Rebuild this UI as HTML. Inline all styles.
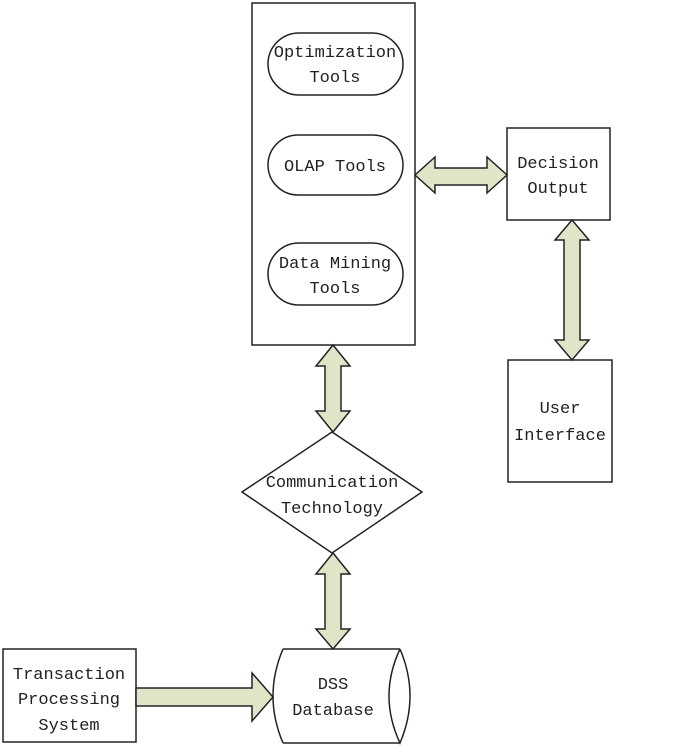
<!DOCTYPE html>
<html><head><style>
body{margin:0;background:#fff;}
text{font-family:"Liberation Mono","DejaVu Sans Mono",monospace;font-size:17px;fill:#222;text-anchor:middle;}
</style></head><body>
<svg width="685" height="747" xmlns="http://www.w3.org/2000/svg">
<g fill="none" stroke="#222" stroke-width="1.5">
<rect x="252" y="3" width="163" height="342"/>
<rect x="268" y="33" width="135" height="62" rx="31"/>
<rect x="268" y="135" width="135" height="60" rx="30"/>
<rect x="268" y="243" width="135" height="62" rx="31"/>
<rect x="507" y="128" width="103" height="92"/>
<rect x="508" y="360" width="104" height="122"/>
<polygon points="332,432 422,492 332,553 242,492"/>
<rect x="3" y="649" width="133" height="93"/>
<path d="M283,649 L400,649 M283,743 L400,743 M283,649 Q263,696 283,743 M400,649 Q378,696 400,743 Q420,696 400,649"/>
</g>
<g fill="#dfe6c8" stroke="#222" stroke-width="1.5">
<polygon points="415,175 435,157 435,168 487,168 487,157 507,175 487,193 487,185 435,185 435,193"/>
<polygon points="572,220 589,240 580,240 580,340 589,340 572,360 555,340 564,340 564,240 555,240"/>
<polygon points="333,345 350,366 341,366 341,411 350,411 333,432 316,411 325,411 325,366 316,366"/>
<polygon points="333,553 350,574 341,574 341,629 350,629 333,649 316,629 325,629 325,574 316,574"/>
<polygon points="136,688 252,688 252,673 273,697 252,721 252,706 136,706"/>
</g>
<text x="335" y="57">Optimization</text><text x="335" y="82">Tools</text>
<text x="335" y="171">OLAP Tools</text>
<text x="335" y="268">Data Mining</text><text x="335" y="293">Tools</text>
<text x="558" y="168">Decision</text><text x="558" y="193">Output</text>
<text x="560" y="413">User</text><text x="560" y="440">Interface</text>
<text x="332" y="487">Communication</text><text x="332" y="513">Technology</text>
<text x="69" y="679">Transaction</text><text x="69" y="704">Processing</text><text x="69" y="730">System</text>
<text x="333" y="689">DSS</text><text x="333" y="715">Database</text>
</svg>
</body></html>
